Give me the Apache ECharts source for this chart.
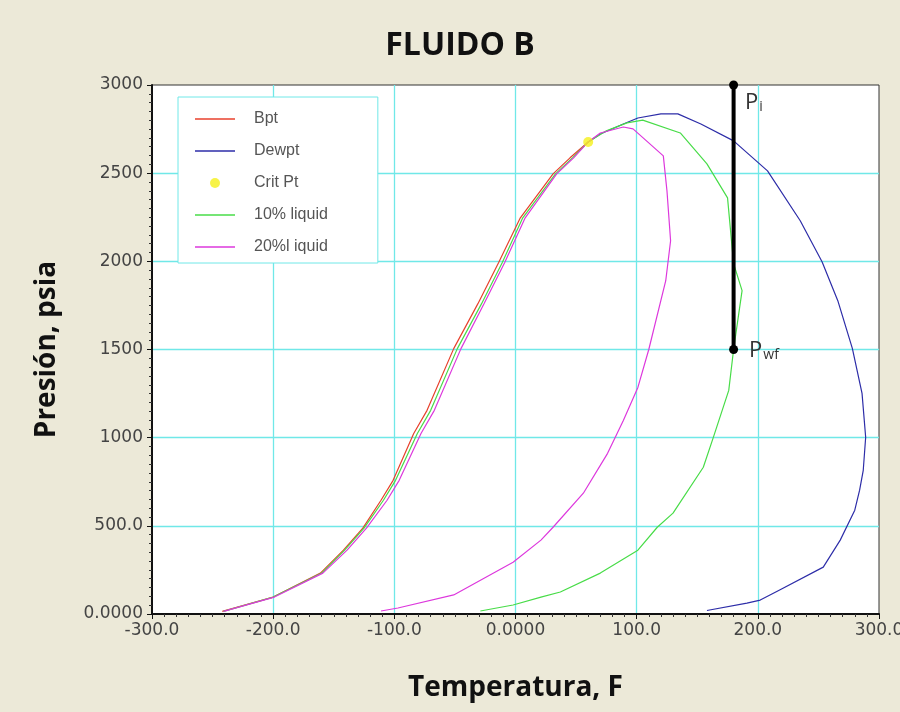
<!DOCTYPE html>
<html>
<head>
<meta charset="utf-8">
<script src="https://cdn.jsdelivr.net/npm/echarts@6/dist/echarts.min.js"></script>
<style>
html,body{margin:0;padding:0;background:#ECE9D8;}
#chart{width:900px;height:712px;}
</style>
</head>
<body>
<div id="chart"></div>
<script>
// ---- Data (Temperature °F, Pressure psia) ----
var seriesNames = ['Bpt', 'Dewpt', 'Crit Pt', '10% liquid', '20%l iquid'];

var bpt = [[-242,15],[-200,96],[-161,232],[-142,362],[-126,487],[-111,645],[-101,758],
  [-84,1024],[-73,1155],[-51,1505],[-31,1760],[-14,1992],[4,2247],[31,2496],[45,2587],[60,2677]];

var dewpt = [[60,2677],[70,2722],[89,2779],[101,2813],[120,2836],[134,2836],[153,2779],
  [180,2683],[208,2513],[235,2230],[253,1998],[266,1777],[278,1506],[286,1251],[289,1002],
  [287,815],[284,702],[280,589],[268,419],[254,266],[218,136],[202,79],[191,62],[158,20]];

var critPt = [[60,2677]];

var liquid10 = [[-241,15],[-200,96],[-160,232],[-141,362],[-125,487],[-109,645],[-99,758],
  [-81,1024],[-70,1155],[-48,1505],[-28,1760],[-11,1992],[6,2247],[33,2496],[47,2587],[60,2677],
  [75,2740],[92,2785],[105,2801],[136,2728],[158,2553],[175,2360],[180,1987],[187,1834],
  [180,1500],[176,1268],[163,996],[155,832],[130,572],[117,492],[101,362],[70,232],[37,125],
  [21,96],[-2,51],[-29,17]];

var liquid20 = [[-241,15],[-199,96],[-159,232],[-139,362],[-123,487],[-106,645],[-96,758],
  [-78,1024],[-67,1155],[-45,1505],[-26,1760],[-9,1992],[8,2247],[34,2496],[48,2587],[60,2677],
  [70,2728],[89,2762],[97,2751],[122,2598],[125,2400],[128,2117],[124,1890],[110,1500],
  [101,1285],[89,1098],[76,911],[56,685],[31,492],[21,419],[-2,294],[-51,108],[-97,34],[-111,17]];

var wellPoints = [[180,3000],[180,1500]];
var wellLabels = ['i', 'wf'];

// ---- Axis tick labels ----
var xTickValues = [-300,-200,-100,0,100,200,300];
var xTickLabels = ['-300.0','-200.0','-100.0','0.0000','100.0','200.0','300.0'];
var yTickValues = [0,500,1000,1500,2000,2500,3000];
var yTickLabels = ['0.0000','500.0','1000','1500','2000','2500','3000'];

var chart = echarts.init(document.getElementById('chart'), null, {renderer:'canvas'});

var gridCyan = '#70e8e8';
var titleFont = '"Open Sans", "Liberation Sans", sans-serif';
var tickFont = '"DejaVu Sans", sans-serif';
var lineIcon = 'path://M0,0H40V1.5H0Z';

function lineSeries(name, data, color) {
  return {
    name: name, type: 'line', data: data, symbol: 'none', smooth: false,
    lineStyle: {color: color, width: 1.2}, itemStyle: {color: color}, z: 3
  };
}

var option = {
  backgroundColor: '#ECE9D8',
  animation: false,
  title: {
    text: 'FLUIDO B', left: 455, top: 25, textAlign: 'center',
    textStyle: {fontFamily: titleFont, fontWeight: 'bold', fontSize: 32, color: '#111'}
  },
  legend: {
    orient: 'vertical', left: 178, top: 97,
    padding: [14, 50, 8, 17],
    itemWidth: 40, itemHeight: 10, itemGap: 16,
    backgroundColor: '#ffffff', borderColor: gridCyan, borderWidth: 1,
    textStyle: {fontFamily: '"Liberation Sans", Arial, sans-serif', fontSize: 16, color: '#555', padding: [0,0,0,14]},
    data: [
      {name: seriesNames[0], icon: lineIcon},
      {name: seriesNames[1], icon: lineIcon},
      {name: seriesNames[2], icon: 'circle'},
      {name: seriesNames[3], icon: lineIcon},
      {name: seriesNames[4], icon: lineIcon}
    ]
  },
  grid: {
    left: 152, right: 21, top: 85, bottom: 98,
    outerBoundsMode: 'none', containLabel: false,
    show: true, backgroundColor: '#ffffff', borderColor: '#333', borderWidth: 1
  },
  xAxis: {
    type: 'value', min: -300, max: 300, interval: 100,
    name: 'Temperatura, F', nameLocation: 'middle', nameGap: 60,
    nameTextStyle: {fontFamily: titleFont, fontWeight: 'bold', fontSize: 28, color: '#111'},
    axisLine: {show: true, onZero: false, lineStyle: {color: '#111', width: 2}},
    axisTick: {show: true, length: 5, lineStyle: {color: '#111'}},
    minorTick: {show: true, splitNumber: 10, length: 3, lineStyle: {color: '#333'}},
    splitLine: {show: true, showMinLine: false, showMaxLine: false, lineStyle: {color: gridCyan, width: 1.3}},
    axisLabel: {
      margin: 8, fontFamily: tickFont, fontSize: 17, color: '#444',
      formatter: function (v) { var i = xTickValues.indexOf(v); return i >= 0 ? xTickLabels[i] : ''; }
    }
  },
  yAxis: {
    type: 'value', min: 0, max: 3000, interval: 500,
    name: 'Presión, psia', nameLocation: 'middle', nameGap: 91, nameRotate: 90,
    nameTextStyle: {fontFamily: titleFont, fontWeight: 'bold', fontSize: 28, color: '#111'},
    axisLine: {show: true, onZero: false, lineStyle: {color: '#111', width: 2}},
    axisTick: {show: true, length: 5, lineStyle: {color: '#111'}},
    minorTick: {show: true, splitNumber: 10, length: 3, lineStyle: {color: '#333'}},
    splitLine: {show: true, showMinLine: false, showMaxLine: false, lineStyle: {color: gridCyan, width: 1.3}},
    axisLabel: {
      margin: 9, fontFamily: tickFont, fontSize: 17, color: '#444',
      formatter: function (v) { var i = yTickValues.indexOf(v); return i >= 0 ? yTickLabels[i] : ''; }
    }
  },
  series: [
    lineSeries(seriesNames[0], bpt, '#e8402c'),
    lineSeries(seriesNames[1], dewpt, '#2d2da8'),
    {
      name: seriesNames[2], type: 'scatter', data: critPt, symbol: 'circle', symbolSize: 10,
      itemStyle: {color: '#f5f01a'}, z: 10
    },
    lineSeries(seriesNames[3], liquid10, '#48dc48'),
    lineSeries(seriesNames[4], liquid20, '#dd38dd'),
    {
      name: 'well', type: 'line', data: wellPoints, clip: false,
      symbol: 'circle', symbolSize: 9, showSymbol: true,
      lineStyle: {color: '#000', width: 4}, itemStyle: {color: '#000'}, z: 8,
      label: {
        show: true, position: 'right', distance: 7,
        formatter: function (p) { return '{p|P}{s|' + wellLabels[p.dataIndex] + '}'; },
        rich: {
          p: {fontFamily: titleFont, fontSize: 22, color: '#333'},
          s: {fontFamily: titleFont, fontSize: 14, color: '#333', padding: [9,0,0,1]}
        }
      },
      labelLayout: function (params) {
        return params.dataIndex === 0 ? {dy: 18} : {dx: 4, dy: 1};
      }
    }
  ]
};
chart.setOption(option);
</script>
</body>
</html>
